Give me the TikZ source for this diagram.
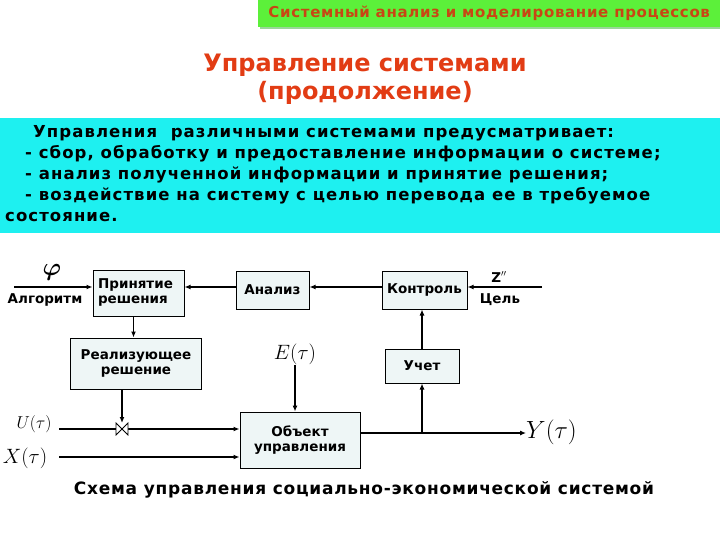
\documentclass[tikz,border=0pt]{standalone}
\usepackage{fontspec}
\setmainfont{DejaVu Sans}
\usetikzlibrary{arrows.meta}
\definecolor{bannergreen}{RGB}{92,240,58}
\definecolor{bannertext}{RGB}{200,70,20}
\definecolor{titlered}{RGB}{226,60,20}
\definecolor{cyanbg}{RGB}{30,240,240}
\definecolor{boxfill}{RGB}{238,246,246}
\begin{document}
\begin{tikzpicture}[x=1pt,y=-1pt,
  blk/.style={draw=black, fill=boxfill, line width=1pt, inner sep=0pt, align=center,
    font=\bfseries\fontsize{13.5}{15.5}\selectfont},
  lbl/.style={inner sep=0pt, font=\bfseries\fontsize{13.5}{15.5}\selectfont},
  mlbl/.style={inner sep=0pt},
  thick line/.style={line width=1.8pt},
  thin line/.style={line width=1.1pt},
  arr/.style={-{Latex[length=6pt,width=5pt]}},
  ctext/.style={anchor=base west, inner sep=0pt, font=\bfseries\fontsize{16.5}{18}\selectfont\addfontfeature{LetterSpace=6.5}}
]
\useasboundingbox (0,0) rectangle (720,540);
\fill[white] (0,0) rectangle (720,540);

% banner
\fill[green!60!black, opacity=0.4] (260,2) rectangle (720,29);
\node[fill=bannergreen, minimum width=462pt, minimum height=27pt, inner sep=0pt, anchor=north west,
  font=\bfseries\fontsize{15}{17}\selectfont\addfontfeature{LetterSpace=4.5}, text=bannertext] (banner) at (258,0)
  {Системный анализ и моделирование процессов};

% title
\node[font=\bfseries\fontsize{24}{28}\selectfont, text=titlered, align=center] (title) at (365,79)
  {Управление системами\\(продолжение)};

% cyan block
\fill[cyanbg] (0,118) rectangle (720,233);
\node[ctext] (l1) at (33,138) {Управления\ \ различными системами предусматривает:};
\node[ctext] (l2) at (25,159) {- сбор, обработку и предоставление информации о системе;};
\node[ctext] (l3) at (25,180) {- анализ полученной информации и принятие решения;};
\node[ctext] (l4) at (25,201) {- воздействие на систему с целью перевода ее в требуемое};
\node[ctext] (l5) at (5,222) {состояние.};

% boxes
\node[blk, minimum width=91pt, minimum height=46pt] (prin) at (138.5,293) {\hspace*{-6pt}\begin{tabular}{@{}l@{}}Принятие\\решения\end{tabular}};
\node[blk, minimum width=73pt, minimum height=38pt] (anal) at (272.5,290) {Анализ};
\node[blk, minimum width=85pt, minimum height=38pt] (kon) at (424.5,290) {Контроль};
\node[blk, minimum width=74pt, minimum height=34pt] (uch) at (422,366) {Учет};
\node[blk, minimum width=131pt, minimum height=51pt] (rea) at (136,363.5) {Реализующее\\решение};
\node[blk, minimum width=120pt, minimum height=56pt] (obj) at (300,440) {Объект\\управления};

% labels
\node[mlbl, font=\fontsize{26}{28}\selectfont\boldmath] (phi) at (52,272) {$\varphi$};
\node[lbl] (algl) at (45,300) {Алгоритм};
\node[lbl] (zl) at (499,277) {Z$''$};
\node[lbl] (goal) at (500,300) {Цель};
\node[mlbl, font=\fontsize{21}{22}\selectfont] (elab) at (295,354) {$E(\tau)$};
\node[mlbl, font=\fontsize{16}{18}\selectfont] (ulab) at (34,424) {$U(\tau)$};
\node[mlbl, font=\fontsize{21}{22}\selectfont] (xlab) at (25,458) {$X(\tau)$};
\node[mlbl, font=\fontsize{28}{30}\selectfont, anchor=west] (ylab) at (526,432) {$Y(\tau)$};
\node[font=\bfseries\fontsize{17}{19}\selectfont\addfontfeature{LetterSpace=4.3}, inner sep=0pt] (cap) at (364,490)
  {Схема управления социально-экономической системой};

% coordinates
\coordinate (algin) at (14,287);
\coordinate (zin) at (542,287);
\coordinate (uin) at (59,429);
\coordinate (xin) at (59,457);
\coordinate (ymid) at (360,433);
\coordinate (valve) at (122,429);

% connectors
\draw[thick line, arr] (algin) -- (prin.west |- algin);
\draw[thick line, arr] (anal.west |- algin) -- (prin.east |- algin);
\draw[thick line, arr] (kon.west |- algin) -- (anal.east |- algin);
\draw[thick line, arr] (zin) -- (kon.east |- zin);
\draw[thin line, arr] (uch.north) -- (kon.south -| uch.north);
\draw[thin line, arr] (obj.east |- ymid) -- (ylab.west |- ymid);
\draw[thin line, arr] (uch.south |- ymid) -- (uch.south);
\draw[thick line, arr] ([xshift=-5pt]prin.south) -- ([xshift=-5pt]prin.south |- rea.north);
\draw[thick line, arr] (rea.south -| valve) -- ([yshift=6pt]valve);
\draw[thick line, arr] (uin) -- (obj.west |- uin);
\draw[thick line, arr] (xin) -- (obj.west |- xin);
\draw[thin line, arr] (elab.south) -- (obj.north -| elab.south);
% valve symbol
\draw[line width=0.8pt, fill=white] ([xshift=-6pt,yshift=6pt]valve) -- ([xshift=-6pt,yshift=-6pt]valve) -- ([xshift=6pt,yshift=6pt]valve) -- ([xshift=6pt,yshift=-6pt]valve) -- cycle;
\end{tikzpicture}
\end{document}
